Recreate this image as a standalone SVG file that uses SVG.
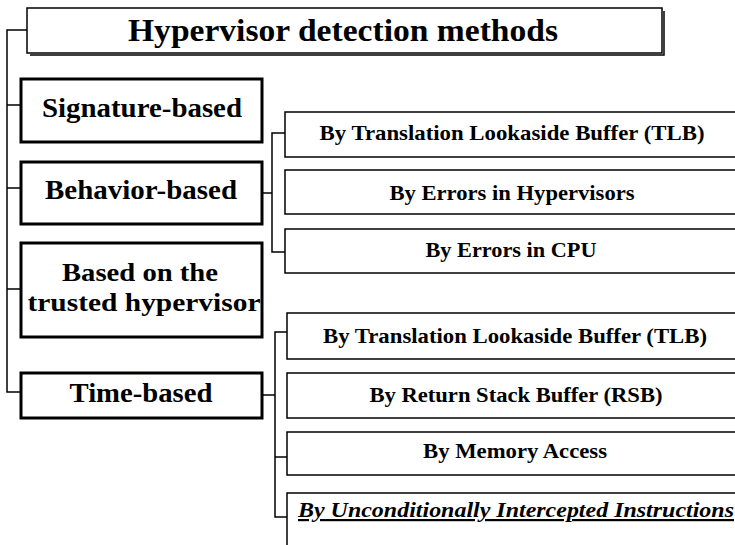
<svg xmlns="http://www.w3.org/2000/svg" width="735" height="545" viewBox="0 0 735 545">
<style>
.t{font-family:"Liberation Serif","Times New Roman",serif;font-weight:bold;fill:#000;text-anchor:middle}
.main{fill:#fff;stroke:#000;stroke-width:3}
.sub{fill:#fff;stroke:#000;stroke-width:1.5}
.c{fill:none;stroke:#000;stroke-width:1.5}
</style>
<rect width="735" height="545" fill="#fff"/>
<g id="connectors">
<path class="c" d="M27,30 H7 V392 H20"/>
<path class="c" d="M7,105 H20 M7,188 H20 M7,289 H20"/>
<path class="c" d="M262,193 H272 M285,133 H272 V252 H285"/>
<path class="c" d="M263,395 H275 M287,332 H275 V517 H287 M275,457 H287"/>
</g>
<g id="title">
<path d="M30,55 H664 V11" fill="none" stroke="#000" stroke-width="1.5"/>
<rect x="27" y="8" width="635" height="45" class="sub"/>
<text x="343" y="41" class="t" font-size="32" textLength="430" lengthAdjust="spacingAndGlyphs">Hypervisor detection methods</text>
</g>
<g id="signature">
<rect x="21" y="79" width="241" height="63" class="main"/>
<text x="142" y="117" class="t" font-size="28" textLength="200" lengthAdjust="spacingAndGlyphs">Signature-based</text>
</g>
<g id="behavior">
<rect x="21" y="162" width="241" height="62" class="main"/>
<text x="141" y="199" class="t" font-size="28" textLength="192" lengthAdjust="spacingAndGlyphs">Behavior-based</text>
</g>
<g id="trusted">
<rect x="21" y="243" width="241" height="94" class="main"/>
<text x="140" y="281" class="t" font-size="26" textLength="156" lengthAdjust="spacingAndGlyphs">Based on the</text>
<text x="144" y="311" class="t" font-size="26" textLength="233" lengthAdjust="spacingAndGlyphs">trusted hypervisor</text>
</g>
<g id="time">
<rect x="21" y="373" width="241" height="45" class="main"/>
<text x="141" y="402" class="t" font-size="28" textLength="143" lengthAdjust="spacingAndGlyphs">Time-based</text>
</g>
<g id="b-tlb">
<rect x="285" y="112" width="460" height="45" class="sub"/>
<text x="512" y="140" class="t" font-size="22" textLength="385" lengthAdjust="spacingAndGlyphs">By Translation Lookaside Buffer (TLB)</text>
</g>
<g id="b-hyp">
<rect x="285" y="170" width="460" height="44" class="sub"/>
<text x="512" y="200" class="t" font-size="22" textLength="245" lengthAdjust="spacingAndGlyphs">By Errors in Hypervisors</text>
</g>
<g id="b-cpu">
<rect x="285" y="229" width="460" height="44" class="sub"/>
<text x="511" y="257" class="t" font-size="22" textLength="171" lengthAdjust="spacingAndGlyphs">By Errors in CPU</text>
</g>
<g id="t-tlb">
<rect x="287" y="313" width="460" height="46" class="sub"/>
<text x="515" y="343" class="t" font-size="22" textLength="384" lengthAdjust="spacingAndGlyphs">By Translation Lookaside Buffer (TLB)</text>
</g>
<g id="t-rsb">
<rect x="287" y="373" width="460" height="45" class="sub"/>
<text x="516" y="402" class="t" font-size="22" textLength="293" lengthAdjust="spacingAndGlyphs">By Return Stack Buffer (RSB)</text>
</g>
<g id="t-mem">
<rect x="287" y="432" width="460" height="43" class="sub"/>
<text x="515" y="458" class="t" font-size="22" textLength="184" lengthAdjust="spacingAndGlyphs">By Memory Access</text>
</g>
<g id="t-unc">
<path d="M287,545 V493 H745" fill="#fff" stroke="#000" stroke-width="1.5"/>
<text x="298" y="517" class="t" font-size="22" font-style="italic" text-decoration="underline" style="text-anchor:start" textLength="436" lengthAdjust="spacingAndGlyphs">By Unconditionally Intercepted Instructions</text>
</g>
</svg>
